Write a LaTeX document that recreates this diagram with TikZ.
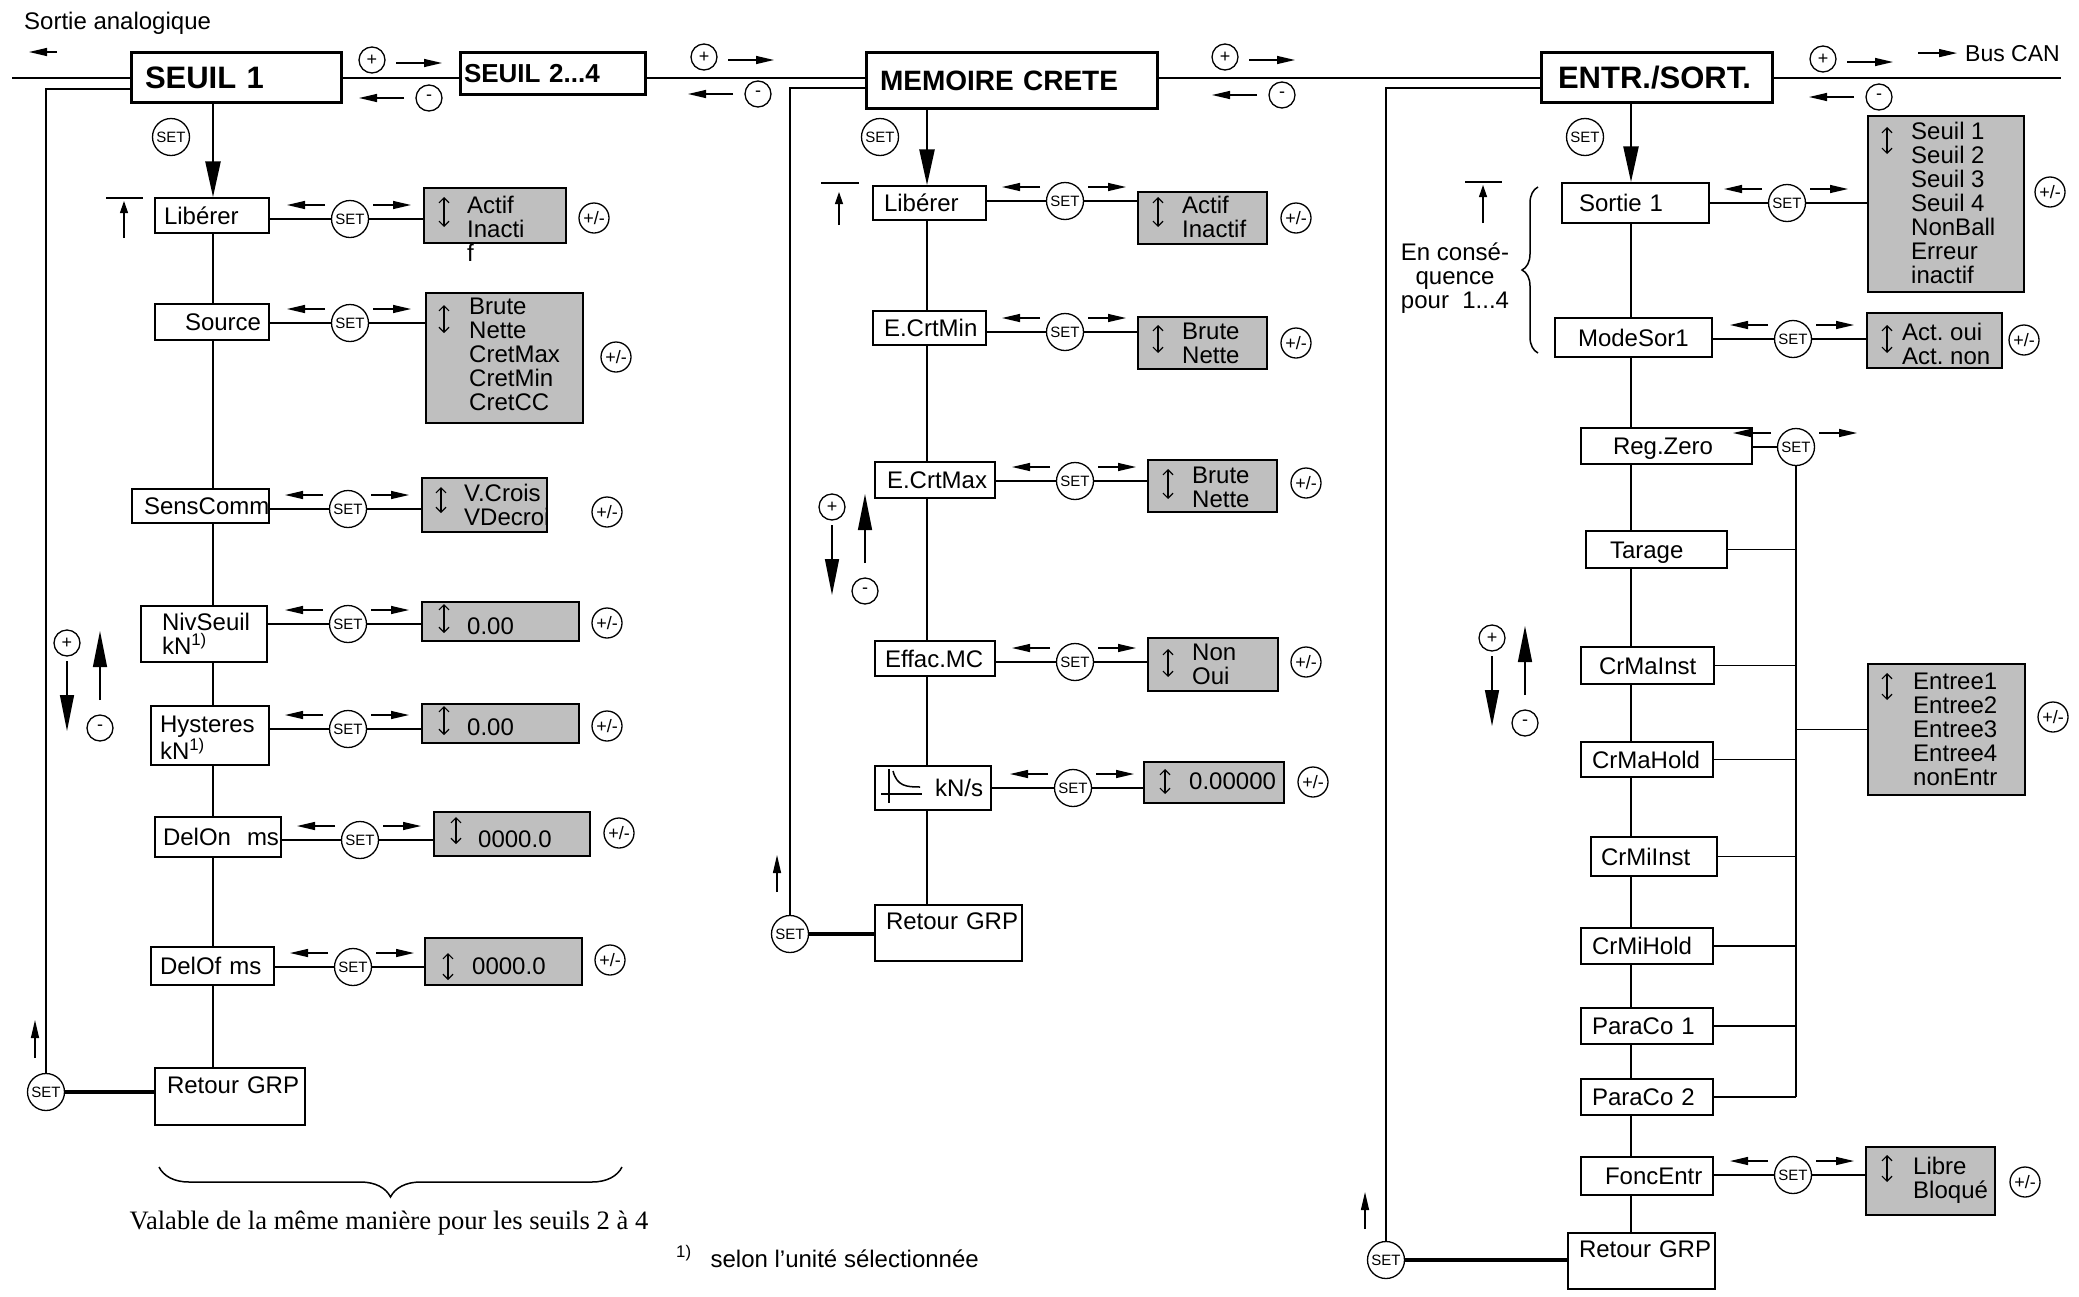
\documentclass[tikz,border=0pt]{standalone}
\usepackage{fontspec}
\setmainfont{Liberation Sans}
\newfontfamily\seriffont{Liberation Serif}
\usetikzlibrary{arrows.meta,decorations.pathreplacing}
\hyphenpenalty=10000
\exhyphenpenalty=10000

\tikzset{
  itembox/.style={draw, line width=1.5pt, fill=white, align=left, text height=17pt, text depth=0pt, inner ysep=0pt},
  onel/.style={},
  twoline/.style={text depth=24pt},
  toptext/.style={text height=22pt, text depth=29pt},
  hdrbox/.style={draw, line width=3pt, fill=white, align=left, inner ysep=0pt, text depth=0pt},
  graybox/.style={draw, line width=1.5pt, fill=black!25, inner sep=0pt},
  valtext/.style={anchor=north west, align=left, inner sep=0pt},
  setc/.style={circle, draw, line width=1.3pt, fill=white, minimum size=37pt, inner sep=0pt, font=\fontsize{15}{15}\selectfont},
  pmc/.style={circle, draw, line width=1.3pt, minimum size=30pt, inner sep=0pt, font=\fontsize{18}{18}\selectfont},
  sgnc/.style={circle, draw, line width=1.3pt, minimum size=26pt, inner sep=0pt, font=\fontsize{18}{18}\selectfont},
  thinline/.style={line width=1.5pt},
  spine/.style={line width=2.6pt},
  loopline/.style={line width=2.8pt},
  retline/.style={line width=4pt},
  arr/.style={line width=1.3pt, -{Triangle[length=18pt,width=8pt]}},
  bigarr/.style={line width=1.4pt, -{Triangle[length=36pt,width=14pt]}},
  spinearr/.style={line width=2.6pt, -{Triangle[length=36pt,width=15pt]}},
  markarr/.style={line width=1.2pt, -{Triangle[length=12pt,width=8pt]}},
  updown/.style={line width=1.2pt, {Straight Barb[length=5pt,width=10pt]}-{Straight Barb[length=5pt,width=10pt]}},
}

\begin{document}
\begin{tikzpicture}[x=1pt,y=-1pt,font=\fontsize{24}{24}\selectfont]
  \useasboundingbox (0,0) rectangle (2079,1296);

  % groups
  \node[hdrbox, text width=182pt, inner xsep=14pt, minimum height=50pt, text height=22pt, font=\fontsize{31}{31}\selectfont\bfseries] (seuil1) at (236,77) {SEUIL 1};
  \node[hdrbox, text width=177pt, inner xsep=4pt, minimum height=42pt, text height=19pt, font=\fontsize{26}{26}\selectfont\bfseries] (seuil2) at (552.5,73) {SEUIL 2...4};
  \node[hdrbox, text width=263pt, inner xsep=14pt, minimum height=56pt, text height=20pt, font=\fontsize{28}{28}\selectfont\bfseries] (mem) at (1011.5,80) {MEMOIRE CRETE};
  \node[hdrbox, text width=197pt, inner xsep=17pt, minimum height=50pt, text height=22pt, font=\fontsize{31}{31}\selectfont\bfseries] (io) at (1656.5,77) {ENTR./SORT.};

  \coordinate (tl) at (12,78);
  \coordinate (tr) at (2061,78);
  \draw[thinline] (tl) -- (seuil1.west |- tl) (seuil1.east |- tl) -- (seuil2.west |- tl)
    (seuil2.east |- tl) -- (mem.west |- tl) (mem.east |- tl) -- (io.west |- tl) (io.east |- tl) -- (tr);

  \node[anchor=base west, inner sep=0pt] (ana) at (24,29) {Sortie analogique};
  \draw[arr] (57,52) -- (29,52);
  \node[anchor=base west, inner sep=0pt, font=\fontsize{23}{23}\selectfont] (bus) at (1965,61) {Bus CAN};
  \draw[arr] ([xshift=-47pt]bus.west) -- ([xshift=-8pt]bus.west);

  % +/- between groups
  \foreach \n/\x/\y in {pa/372/60, pb/704/57, pc/1225/57, pd/1823/59} {
    \node[sgnc] (\n) at (\x,\y) {+};
    \draw[arr] ([shift={(24pt,-3pt)}]\n.center) -- ([shift={(70pt,-3pt)}]\n.center);
  }
  \foreach \n/\x/\y in {ma/429/98, mb/758/94, mc/1282/95, md/1879/97} {
    \node[sgnc] (\n) at (\x,\y) {-};
    \draw[arr] ([xshift=-25pt]\n.center) -- ([xshift=-70pt]\n.center);
  }

  % menu items
  \foreach \n/\xa/\ya/\xb/\yb/\tx/\sty/\lab in {
    lib1/155/198/269/233/164/onel/Libérer,
    src1/155/304/269/340/185/onel/Source,
    sens/132/489/269/523/144/onel/SensComm,
    niv/141/606/267/662/162/twoline/{NivSeuil\\kN\textsuperscript{1)}},
    hys/151/706/269/765/160/twoline/{Hysteres\\kN\textsuperscript{1)}},
    don/155/817/281/857/163/onel/DelOn~~ms,
    dof/151/947/274/985/160/onel/DelOf~ms,
    ret1/155/1068/305/1125/167/toptext/Retour~GRP,
    lib2/873/186/986/220/884/onel/Libérer,
    cmin/873/311/986/345/884/onel/E.CrtMin,
    cmax/875/462/995/498/887/onel/E.CrtMax,
    eff/875/641/995/676/885/onel/Effac.MC,
    ret2/875/905/1022/961/886/toptext/Retour~GRP,
    sor/1562/183/1709/223/1579/onel/Sortie~1,
    mod/1555/318/1712/357/1578/onel/ModeSor1,
    reg/1581/428/1752/464/1613/onel/Reg.Zero,
    tar/1586/531/1727/568/1610/onel/Tarage,
    cmi/1581/647/1714/684/1599/onel/CrMaInst,
    cmh/1581/742/1713/777/1592/onel/CrMaHold,
    cni/1591/837/1717/876/1601/onel/CrMiInst,
    cnh/1581/928/1713/964/1592/onel/CrMiHold,
    pc1/1581/1008/1713/1044/1592/onel/ParaCo~1,
    pc2/1581/1079/1713/1115/1592/onel/ParaCo~2,
    fonc/1581/1157/1713/1195/1605/onel/FoncEntr,
    ret3/1568/1233/1715/1289/1579/toptext/Retour~GRP} {
    \pgfmathsetmacro\ox{\tx-\xa}
    \pgfmathsetmacro\tw{\xb-\xa-2*\ox}
    \pgfmathsetmacro\hh{\yb-\ya}
    \node[itembox, \sty, text width=\tw pt, inner xsep=\ox pt, minimum height=\hh pt] (\n) at ({(\xa+\xb)/2},{(\ya+\yb)/2}) {\lab};
  }
  \node[itembox, text width=100pt, inner xsep=8pt, align=right, minimum height=44pt] (kns) at (933,788) {kN/s};
  \draw[thinline] (889,769) -- (889,803) (881,794) -- (922,794);
  \draw[thinline] (893,771) .. controls (897,786) and (906,787) .. (920,787);

  % value displays
  \foreach \n/\xa/\ya/\xb/\yb in {
    g1/424/188/566/243, g2/426/293/583/423, g3/422/478/547/532, g4/422/602/579/641,
    g5/422/704/579/743, g6/434/812/590/856, g7/425/938/582/985,
    g8/1138/192/1267/244, g9/1138/317/1267/369, g10/1148/460/1277/512,
    g11/1148/638/1278/691, g12/1144/762/1284/803,
    g13/1868/116/2024/292, g14/1867/313/2002/368, g15/1868/664/2025/795, g16/1866/1147/1995/1215} {
    \pgfmathsetmacro\ww{\xb-\xa}
    \pgfmathsetmacro\hh{\yb-\ya}
    \node[graybox, minimum width=\ww pt, minimum height=\hh pt] (\n) at ({(\xa+\xb)/2},{(\ya+\yb)/2}) {};
  }
  \foreach \n/\x/\y/\lab in {
    v1/467/196/{Actif\\Inacti\\f},
    v2/469/298/{Brute\\Nette\\CretMax\\CretMin\\CretCC},
    v3/464/484/{V.Crois\\VDecroi},
    v4/467/618/0.00, v5/467/719/0.00, v6/478/831/0000.0, v7/472/958/0000.0,
    v8/1182/196/{Actif\\Inactif}, v9/1182/323/{Brute\\Nette}, v10/1192/467/{Brute\\Nette},
    v11/1192/644/{Non\\Oui}, v12/1189/773/0.00000,
    v13/1911/122/{Seuil 1\\Seuil 2\\Seuil 3\\Seuil 4\\NonBall\\Erreur\\inactif},
    v14/1902/323/{Act.~oui\\Act.~non},
    v15/1913/673/{Entree1\\Entree2\\Entree3\\Entree4\\nonEntr},
    v16/1913/1157/{Libre\\Bloqué}}
    \node[valtext] (\n) at (\x,\y) {\lab};
  \foreach \x/\ya/\yb in {444/197/227, 444/305/333, 441/487/513, 444/604/633, 444/706/735,
    456/817/844, 448/953/980, 1158/197/227, 1158/325/353, 1168/469/499, 1168/649/677,
    1165/769/794, 1887/127/154, 1887/325/353, 1887/673/700, 1887/1155/1182}
    \draw[updown] (\x,\ya) -- (\x,\yb);

  % SET keys
  \foreach \n/\x/\y in {s1/350/219, s2/350/323, s3/348/509, s4/348/624, s5/348/729,
    s6/360/840, s7/353/967, s8/1065/201, s9/1065/332, s10/1075/481, s11/1075/662,
    s12/1073/788, s13/1787/203, s14/1793/339, s15/1796/447, s16/1793/1175,
    hs1/171/137, hs2/880/137, hs3/1585/137, rs1/46/1092, rs2/790/934, rs3/1386/1260}
    \node[setc] (\n) at (\x,\y) {SET};
  \foreach \n/\x/\y in {p1/594/218, p2/616/357, p3/607/512, p4/607/623, p5/607/726,
    p6/619/833, p7/610/960, p8/1296/218, p9/1296/343, p10/1306/483, p11/1306/662,
    p12/1313/782, p13/2050/192, p14/2024/340, p15/2053/717, p16/2025/1182}
    \node[pmc] (\n) at (\x,\y) {+/-};

  \foreach \a/\s/\g in {lib1/s1/g1, src1/s2/g2, sens/s3/g3, niv/s4/g4, hys/s5/g5,
    don/s6/g6, dof/s7/g7, lib2/s8/g8, cmin/s9/g9, cmax/s10/g10, eff/s11/g11,
    kns/s12/g12, sor/s13/g13, mod/s14/g14, fonc/s16/g16} {
    \draw[thinline] (\a.east |- \s) -- (\s.west);
    \draw[thinline] (\s.east) -- (\s -| \g.west);
  }
  \draw[thinline] (reg.east |- s15) -- (s15.west);
  \foreach \i in {1,...,16} {
    \draw[arr] ([shift={(-25pt,14pt)}]s\i.center) -- ([shift={(-63pt,14pt)}]s\i.center);
    \draw[arr] ([shift={(23pt,14pt)}]s\i.center) -- ([shift={(61pt,14pt)}]s\i.center);
  }

  % input bus
  \draw[thinline] (s15.south) -- (s15 |- pc2.east);
  \foreach \b in {tar, cmi, cmh, cni, cnh, pc1, pc2}
    \draw[thinline] (\b.east) -- (\b.east -| s15);
  \draw[thinline] (g15.west) -- (g15.west -| s15);

  % spines
  \coordinate (spl) at (213,0);
  \coordinate (spm) at (927,0);
  \coordinate (spr) at (1631,0);
  \draw[spinearr] (seuil1.south -| spl) -- (lib1.north -| spl);
  \draw[spinearr] (mem.south -| spm) -- (lib2.north -| spm);
  \draw[spinearr] (io.south -| spr) -- (sor.north -| spr);
  \foreach \a/\b in {lib1/src1, src1/sens, sens/niv, niv/hys, hys/don, don/dof, dof/ret1}
    \draw[spine] (\a.south -| spl) -- (\b.north -| spl);
  \foreach \a/\b in {lib2/cmin, cmin/cmax, cmax/eff, eff/kns, kns/ret2}
    \draw[spine] (\a.south -| spm) -- (\b.north -| spm);
  \foreach \a/\b in {sor/mod, mod/reg, reg/tar, tar/cmi, cmi/cmh, cmh/cni, cni/cnh,
    cnh/pc1, pc1/pc2, pc2/fonc, fonc/ret3}
    \draw[spine] (\a.south -| spr) -- (\b.north -| spr);

  % return loops
  \draw[loopline] ([yshift=-12pt]seuil1.west) -| (rs1.north);
  \draw[retline] (rs1.east) -- (ret1.west |- rs1);
  \draw[loopline] ([yshift=-8pt]mem.west) -| (rs2.north);
  \draw[retline] (rs2.east) -- (ret2.west |- rs2);
  \draw[loopline] ([yshift=-11pt]io.west) -| (rs3.north);
  \draw[retline] (rs3.east) -- (ret3.west |- rs3);
  \draw[arr] (35,1058) -- (35,1020);
  \draw[arr] (777,892) -- (777,855);
  \draw[arr] (1365,1229) -- (1365,1192);

  % top of list markers
  \draw[thinline] (106,198) -- (143,198);
  \draw[markarr] (124,238) -- (124,201);
  \draw[thinline] (821,183) -- (859,183);
  \draw[markarr] (839,225) -- (839,192);
  \draw[thinline] (1465,182) -- (1502,182);
  \draw[markarr] (1483,223) -- (1483,185);

  % scrolling keys
  \foreach \i/\px/\py/\mx/\my in {1/67/643/100/728, 2/832/507/865/591, 3/1492/638/1525/723} {
    \node[sgnc] (pv\i) at (\px,\py) {+};
    \node[sgnc] (mv\i) at (\mx,\my) {-};
    \draw[bigarr] ([yshift=-18pt]pv\i.center) -- ([yshift=-88pt]pv\i.center);
    \draw[bigarr] ([yshift=28pt]mv\i.center) -- ([yshift=97pt]mv\i.center);
  }

  % notes
  \draw[thinline, decorate, decoration={brace, amplitude=16pt}] (1538,353) -- (1538,187);
  \node[align=center, anchor=north, inner sep=0pt] (cons) at (1455,243) {En consé-\\quence\\pour~~1...4};
  \draw[thinline, decorate, decoration={brace, amplitude=30pt}] (622,1167) -- (159,1167);
  \node[anchor=base, inner sep=0pt, font=\seriffont\fontsize{26.6}{27}\selectfont] (valable) at (389,1229) {Valable de la même manière pour les seuils 2 à 4};
  \node[anchor=base west, inner sep=0pt] (note) at (676,1267) {\textsuperscript{1)}\hspace{19pt}selon l’unité sélectionnée};
\end{tikzpicture}
\end{document}
